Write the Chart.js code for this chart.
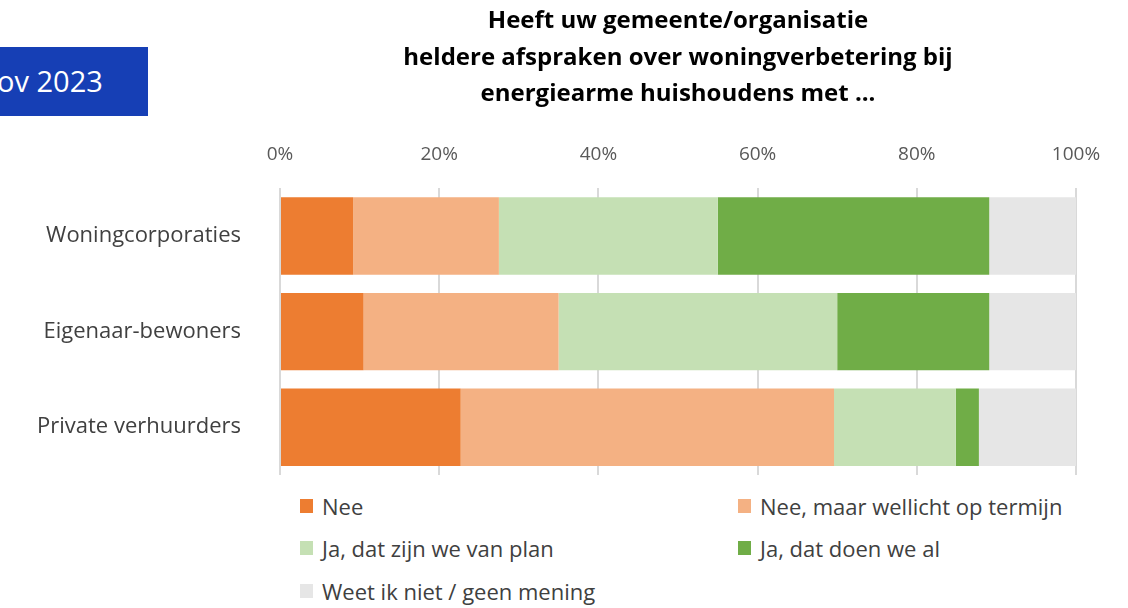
<!DOCTYPE html>
<html>
<head>
<meta charset="utf-8">
<script src="https://cdn.jsdelivr.net/npm/chart.js@4.4.1/dist/chart.umd.min.js"></script>
<style>
  html, body { margin: 0; padding: 0; background: #fff; }
  body { width: 1128px; height: 608px; position: relative; overflow: hidden; font-family: "Open Sans", sans-serif; }
  #wrap { position: absolute; left: 0; top: 0; width: 1128px; height: 480px; }
  .badge {
    position: absolute; left: 0; top: 47px; width: 148px; height: 69px;
    background: #163fb5; color: #fff; overflow: hidden;
    font-size: 29px; line-height: 69px; white-space: nowrap;
  }
  .badge span { position: absolute; left: -3px; top: -1px; }
  #legend { position: absolute; left: 0; top: 484px; width: 1128px; height: 124px; }
  .item { position: absolute; display: flex; align-items: center; font-size: 22px; color: #404040; white-space: nowrap; line-height: 26px; }
  .item i { display: inline-block; width: 13px; height: 14px; margin-right: 9px; }
</style>
</head>
<body>
<div id="wrap"><canvas id="chart"></canvas></div>
<div class="badge"><span>ov 2023</span></div>
<div id="legend"></div>
<script>
const categories = ["Woningcorporaties", "Eigenaar-bewoners", "Private verhuurders"];
const seriesNames = [
  "Nee",
  "Nee, maar wellicht op termijn",
  "Ja, dat zijn we van plan",
  "Ja, dat doen we al",
  "Weet ik niet / geen mening",
];
const nee = [9.2, 10.5, 22.7];
const neeMaar = [18.3, 24.5, 46.9];
const jaPlan = [27.5, 35.0, 15.3];
const jaAl = [34.1, 19.1, 2.9];
const weetNiet = [10.9, 10.9, 12.2];
const colors = ["#ed7d31", "#f4b183", "#c5e0b4", "#70ad47", "#e6e6e6"];
const xTicks = [0, 20, 40, 60, 80, 100];
const titleLines = [
  "Heeft uw gemeente/organisatie",
  "heldere afspraken over woningverbetering bij",
  "energiearme huishoudens met ...",
];

const values = [nee, neeMaar, jaPlan, jaAl, weetNiet];
const datasets = values.map((data, i) => ({
  label: seriesNames[i],
  data,
  backgroundColor: colors[i],
  borderWidth: 0,
  categoryPercentage: 1,
  barPercentage: 0.81,
}));

const chart = new Chart(document.getElementById("chart"), {
  type: "bar",
  data: { labels: categories, datasets },
  options: {
    indexAxis: "y",
    responsive: true,
    maintainAspectRatio: false,
    animation: false,
    layout: { padding: { left: 0, right: 52, top: 0, bottom: 5 } },
    plugins: {
      legend: { display: false },
      tooltip: { enabled: false },
      title: {
        display: true,
        fullSize: false,
        text: titleLines,
        color: "#000",
        font: { family: "Open Sans", size: 24, weight: "bold", lineHeight: 1.52 },
        padding: { top: 3, bottom: 9 },
      },
    },
    scales: {
      x: {
        position: "top",
        stacked: true,
        min: 0,
        max: 100,
        afterBuildTicks: (scale) => {
          scale.ticks = xTicks.map((v) => ({ value: v }));
        },
        ticks: {
          color: "#595959",
          font: { family: "Open Sans", size: 19 },
          padding: 22,
          callback: (v) => v + "%",
        },
        grid: { color: "#d9d9d9", lineWidth: 2, drawTicks: false },
        border: { display: false },
      },
      y: {
        stacked: true,
        afterFit: (scale) => {
          scale.width = 280;
          scale.paddingTop = 0;
          scale.paddingBottom = 0;
        },
        ticks: {
          color: "#404040",
          font: { family: "Open Sans", size: 22 },
          padding: 39,
        },
        grid: { display: false, drawTicks: false },
        border: { display: false },
      },
    },
  },
});

const legend = document.getElementById("legend");
const slots = [[300, 22], [738, 22], [300, 64], [738, 64], [300, 107]];
seriesNames.forEach((name, i) => {
  const el = document.createElement("div");
  el.className = "item";
  el.style.left = slots[i][0] + "px";
  el.style.top = (slots[i][1] - 13) + "px";
  el.innerHTML = `<i style="background:${colors[i]}"></i>${name}`;
  legend.appendChild(el);
});
</script>
</body>
</html>
